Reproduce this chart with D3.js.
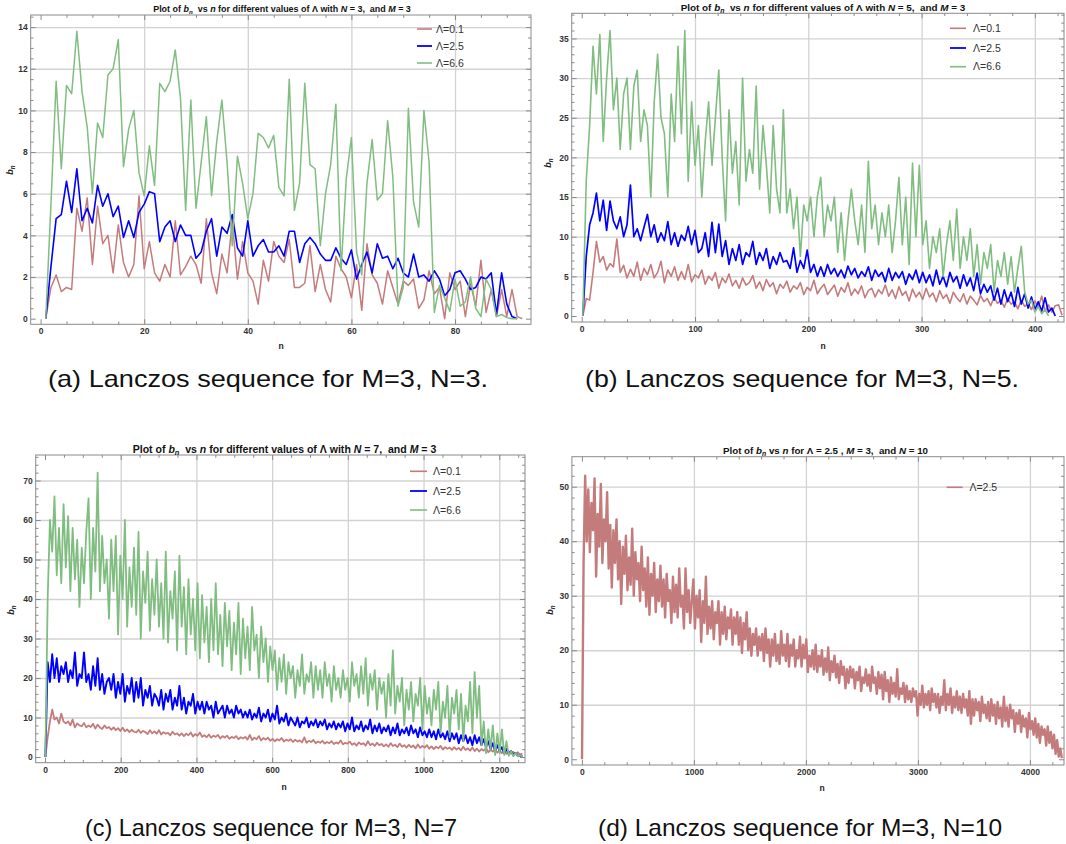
<!DOCTYPE html>
<html><head><meta charset="utf-8">
<script src="https://cdn.jsdelivr.net/npm/d3@7"></script>
<style>body{margin:0;background:#fff}svg{display:block;font-family:"Liberation Sans",Arial,sans-serif}</style>
</head><body>
<svg id="chart" width="1066" height="844"></svg>
<script>
// ---------------- DATA ----------------
const legendLabels = ["Λ=0.1", "Λ=2.5", "Λ=6.6"];
const legendLabelD = ["Λ=2.5"];

// Panel (a): N=3, step 1, n starts at 1
const aStep = 1;
const aRed = [0,1.5,2.1,1.3,1.5,1.4,5.3,4.2,5.8,2.6, 5.4,3.6,4.0,2.2,4.5,2.7,2.0,2.6,5.9,2.4,
 3.7,2.2,1.8,2.6,2.0,4.7,2.1,2.5,3.0,2.6, 1.7,4.8,2.2,1.2,3.1,2.2,4.7,1.9,3.7,2.2,
 1.8,0.7,2.8,1.8,3.7,3.0,2.7,3.8,1.5,1.5, 1.7,3.5,1.3,2.6,1.4,0.8,3.0,2.4,2.0,1.0,
 2.6,0.4,3.6,2.1,1.7,0.7,2.3,1.5,0.7,1.8, 1.6,1.9,0.5,0.9,2.3,1.2,1.5,0.0,2.2,1.4,
 1.8,0.1,1.7,0.6,2.8,0.3,1.4,0.1,1.4,0.1, 1.4,0.1,0.0];
const aBlue = [0,2.5,4.8,5.0,6.6,5.1,7.2,4.7,5.3,4.6, 6.4,5.4,6.0,4.9,5.4,3.9,4.7,3.9,5.1,5.5,
 6.1,6.0,3.7,4.4,4.7,3.7,4.5,4.0,4.0,2.9, 3.2,4.2,4.8,3.0,4.4,4.1,5.0,3.4,3.0,4.7,
 3.0,3.5,3.8,3.2,3.2,3.5,3.0,4.2,4.2,2.7, 3.6,3.9,3.6,3.1,2.8,2.8,3.4,2.9,2.6,3.3,
 1.9,2.6,3.2,2.2,3.6,2.9,3.0,2.4,2.9,2.2, 2.0,3.1,2.0,2.1,1.8,2.3,1.9,1.1,1.4,2.2,
 2.3,1.9,1.4,1.5,2.0,1.9,2.2,0.2,2.2,0.7, 0.1,0.0];
const aGreen = [0,5.5,11.4,7.2,11.2,10.8,13.8,10.9,9.2,6.0, 9.4,8.7,11.7,12.0,13.4,7.3,9.1,10.0,7.0,5.9,
 8.3,6.4,11.3,10.9,11.4,12.9,10.6,5.2,10.5,5.3, 7.5,9.7,5.9,8.5,10.5,7.5,3.5,7.8,6.5,4.8,
 6.0,8.9,8.7,8.2,8.8,6.3,5.9,11.5,5.2,6.5, 11.3,7.4,7.2,3.5,6.0,7.4,10.3,2.3,6.7,8.7,
 3.2,2.1,6.5,8.6,5.7,6.0,9.5,6.8,0.6,1.5, 10.1,5.6,4.4,10.0,7.5,0.3,1.6,1.0,0.35,1.9,
 0.6,0.8,2.0,0.5,0.1,1.9,1.4,0.1,0.2,0.05, 0.0,0.0];
const aXTicks = [0,20,40,60,80];
const aYTicks = [0,2,4,6,8,10,12,14];

// Panel (b): N=5, sampled every 3rd n starting at n=1
const bStep = 3;
const bRed = [0,2.2,2,5.5,9.4,6.8,7.5,5.8,6.6,6.2, 9.7,5.5,6.4,4.8,5.9,5,6.8,4.5,6,5.2,
 6.5,4.8,5.5,6.9,4.2,5.8,5,6.2,4.5,5.6, 4.6,6.5,4.3,5.2,4.8,5.8,4,5,4.5,5.5,
 3.5,4.8,4.2,5.3,3.8,4.5,3.5,4.8,3.9,4.2, 5.1,3.5,4.3,3.2,4.6,3.7,4.2,2.8,4,3.5,
 4.4,3,3.8,3.4,4.2,2.7,3.6,3.2,4.5,2.8, 3.5,4,2.7,3.3,3.9,2.5,3.6,3,4.2,2.6,
 3.4,2.8,3.8,2.3,3.2,3.5,2.4,3.3,2.8,3.9, 2.5,3.3,2.2,3.7,2.6,3.1,1.9,3.4,2.4,3,
 2.1,3.5,2.4,2.9,1.8,3.2,2.2,2.7,1.6,3, 2.3,1.8,2.8,1.5,2.5,2,1.4,2.6,1.8,2.2,
 1.3,2.4,1.6,2,1.1,2.2,1.5,1.8,0.9,2, 1.2,1.6,0.8,1.9,1.1,2.5,0.6,1.4,0.5,1.3,
 1.4,0.1];
const bBlue = [0,7.5,11.5,13,15.5,12,14.6,10.8,14.5,12, 11,12.5,10,11.5,16.5,10,11,9.5,11.2,12.8,
 10,11.5,9.3,10.5,9.5,11.9,9,10.5,8.8,10.2, 9.5,11.3,9,10.8,8,8.5,10.5,7.5,11.8,8,
 11.6,7.5,9.5,6.5,8.5,7,9,6.5,8,7.5, 9.4,6.5,8,7,8.5,6,7.5,6.5,8,6.8,
 7,6,8.6,5.5,7,6,8.3,5.5,6.5,5, 6.2,5,6.5,5.3,6,5,5.8,4.8,6.3,5.2,
 6,4.8,5.6,5,6.2,4.5,5.8,5,5.5,4.3, 6,4.5,5.5,4.8,5.6,4,5.3,4.6,5.8,4.2,
 5.5,4.2,5.2,3.8,5.8,4,5,3.7,5.5,4.3, 5,3.5,5.2,3.8,4.8,3.2,5.4,2.8,4,3,
 3.8,2,3.5,1.5,3.3,1.8,3,1.2,3.6,1.5, 2.8,1,2.4,0.8,1.8,0.6,2.3,0.5,1,0];
const bGreen = [0,17,24,34,28,35.5,22,30,36,26, 30,21,28,30,21,29,31,22,26,24,
 15,27,33,25,23,15,28,22,34,23, 36,17,27,19,24,15,22,27,19,25,
 31,20,12,26,18,22,14,30,17,21, 18,29,16,24,19,13,24,16,13,26,
 13,16,11,15,7.5,14,12,15,10,15, 17.5,10,14,12,15,8,13,7,12,16,
 12,9,14,8,19.5,11,14,9,13,10, 14,8,12,17.5,9,15,6.5,19.3,10,19,
 9,12,6,10,8,11,5,9,12,7, 13.5,6,10,7,11,5,9,4,8,6,
 9,3,7,5,8,4,7.5,3,6,8.8, 3,1.5,2,0.5,1.2,0.3,0.8,0];
const bXTicks = [0,100,200,300,400];
const bYTicks = [0,5,10,15,20,25,30,35];

// Panel (c): N=7, sampled every 6th n starting at n=1
const cStep = 6;
const cRed = [0,5,9,12,9.5,10,8.5,11,9,8.5, 9,8,9.5,7.5,8.5,8,7.8,8.6,7.5,8,
 7.6,8.4,7.2,8.2,7.5,7.1,8,7.3,7.6,6.9, 7.5,6.8,7.3,6.6,7.4,6.5,7,6.3,6.9,6.4,
 6.2,6.9,6.1,6.6,6.3,5.8,6.8,6,6.5,5.9, 6.8,5.7,6.3,5.9,6.1,5.5,6.4,5.7,6,5.4,
 6,5.3,5.9,5.5,6.2,5.2,5.8,5.4,6.2,5.1, 5.5,5,5.7,4.9,5.4,5.1,5.6,4.7,5.3,4.9,
 5.4,4.6,5.1,4.8,5.3,4.5,5,4.7,5.1,4.4, 5.6,4.3,4.9,4.5,5.3,4.2,4.8,4.4,4.9,4.1,
 4.6,4,4.5,4.2,4.8,3.9,4.4,4.1,4.5,3.8, 4.4,3.9,4.2,3.7,5,3.6,4.1,3.8,4.3,3.5,
 3.9,3.6,4.1,3.4,3.8,3.5,4,3.3,3.7,3.4, 4.2,3.2,3.6,3.4,3.9,3.1,3.5,2.9,3.7,3.2,
 3.5,2.9,4,3,3.4,2.8,3.6,3,3.3,2.7, 3.2,2.6,3.5,2.8,3.1,2.5,3.4,2.6,3,2.4,
 3.1,2.5,2.9,2.2,3.2,2.3,2.8,2.4,3,2.1, 2.7,2,2.6,2.2,2.8,1.9,2.5,2.1,2.4,1.8,
 2.5,1.9,2.3,1.7,2.6,1.8,2.2,1.6,2.4,1.5, 2.1,1.4,2,1.6,2.2,1.2,1.8,1.4,1.9,1.1,
 1.6,1,1.5,0.8,1.4,0.9,1.3,0.7,1.2,0.6, 0.9];
const cBlue = [0,24,19,26,20,25,19,23,21,24, 19,22,20,26.5,18,21,20,26.5,19,21,
 17,23,18,25,17,21,16,19,20,17, 21,15,19,16,21,14,18,16,20,14,
 19,15,20,13,17,15,18,13,16,15, 13,17,12,16,14,17,12,15,13,18,
 12,15,11,14,13,16,11,14,12,14, 11,14,12,13,10,14,11,12,13,10,
 13,11,12,10,13,11,12,10,11.5,10, 12,9.5,11,10,12.5,9,11,10,12,9,
 11,9.5,13,8.5,10,9,11,8,10,9, 8,10,7.5,9,8.5,10,7.5,9,8,9.5,
 7.5,9,8,9.5,7,8.5,7.5,9,7,8.5, 7.5,9,6.5,8.5,7,10,6.5,8,7,9,
 6.5,8,7,9.5,6,8,6.5,8.5,6,7.5, 6.5,8,5.5,7.5,6,8.5,5.5,7,6,7.5,
 5.5,8,6,7,5,7.5,5.5,6.5,5,7, 5,6.5,4.5,7,5,6,4.5,6.5,4,6,
 4.5,6,3.5,5.5,4,5.5,3.5,5,3,5.5, 3.5,5,3,4.5,2.5,4,2,3.5,1.5,3,
 1.5,2.5,1,2,0.8,1.5,0.5,1,0.3,0.4, 0.1];
const cGreen = [0,40,60,52,66,46,58,44,64,48, 61,42,58,45,55,38,53,44,57,65.5,
 40,58,47,72,42,56,44,50,35,55, 42,56,31,51,40,60,33,48,38,53,
 36,57,30,47,39,52,32,45,36,50, 33,44,30,52,29,42,35,47,27,51,
 33,43,26,45,31,40,27,44,25,41, 29,38,24,40,27,44,26,36,23,39,
 28,37,22,34,26,39,21,35,25,33, 22,38,27,31,20,33,24,30,19,28,
 22,27,17,25,19,26,16,24,20,23, 15,22,18,26,16,21,19,24,15,23,
 17,22,15,24,18,21,14,23,17,20, 15,22,17,20,14,24,18,21,15,23,
 16,25,13,21,17,22,12,20,16,19, 10,21,13,27,11,18,14,20,8,17,
 12,19,9,16,13,20,7,18,11,15, 8,17,12,19,6,14,10,18,5,15,
 11,17,7,16,4,13,9,19,6,21.5, 10,18,3,9,1,7,2,8,0.5,6,
 1,7,0.5,4,0.3,1.5,0.2,1,0.2,0.5, 0.1];
const cXTicks = [0,200,400,600,800,1000,1200];
const cYTicks = [0,10,20,30,40,50,60,70];

// Panel (d): N=10, sampled every 14th n starting at n=1
const dStep = 14;
const dRed = [0,36,52,40,49.5,38,47,42,51.5,33.5, 45,39,50.5,36,44,40,49,35,43,31.5,
 42,36,44,33,40,28.5,39,34,41,31, 37,32,42.3,30,38,33,36,29,39,31,
 35,28,37,26.5,34,30,36,27,33,29, 35.5,28,33,26,34,29,31,25,33.5,27,
 32,26,35,28,30,24,35,27,31,25, 29,33,24,30,26,31,21.5,29,25,33.5,
 23,28,24,29,22,27,25,29,21,27, 23,28,22,26,24,27.5,21,26,23,27,
 21,26,19.5,25,22,27,20,24,19,23, 21,24,19,22.5,20,23,18,24,19.5,22,
 17,22,19,23,18,21,17.5,23.5,19,21, 18,23,17,21,19,22,17,20,18.5,22.5,
 17,21,18.5,22,16,19,17,20,16.5,21, 16,19,17,20,15.5,18.5,16,20.5,14.5,18,
 16,19,15,17.5,14,18,15.5,17,13,16.5, 14,17,15,16.5,13,16,14.5,17,12.5,15,
 14,16.5,13.5,15.5,12.5,17,14,15,12,16, 13,15.5,11,16,12.5,14.5,10.5,15,12,14,
 11.5,16.5,11,13,12,14,10.5,13.5,11,12.5, 10.5,13,11.5,12.5,8,12,10,13.5,9.5,12,
 10,12.5,9,13,10.5,12,9.5,12,8.5,11.5, 10,14.5,9,12,10,13,8.5,11.5,9.5,12.5,
 9,11.5,8.5,12,9.5,11,8,12.5,6.5,11, 8,11,9,10.5,7,11.5,8.5,10,7.5,10.5,
 7,11,8,10,6.5,10.5,7.5,9.5,6,11.5, 7,9.5,6,10,7.5,9,5,8.5,6.5,9,
 5,8,6,7.5,4,8.5,5.5,7,4.5,7.5, 4,6.5,3,6,4.5,5.5,2.5,6,3,5,
 2,4.5,1,3.5,0.5,2,0.2];
const dXTicks = [0,1000,2000,3000,4000];
const dYTicks = [0,10,20,30,40,50];

// ---------------- STYLE / LAYOUT ----------------
const RED = "#c47b7b", BLUE = "#0000ff", GREEN = "#80bd80";
const svg = d3.select("#chart");
const FONT = '"Liberation Sans", Arial, sans-serif';

function titleSegs(tail){
  return [{t:"Plot of "},{t:"b",i:1},{t:"n",i:1,sub:1},{t:"  vs "},{t:"n",i:1}].concat(tail);
}

const panels = [
 {id:"a", left:30.7, right:531, top:15, bottom:324.3, xDomain:[-1.91,94.67], yDomain:[-0.27,14.58],
  xTicks:aXTicks, yTicks:aYTicks, xMinor:5, yMinor:0.5, step:aStep, lw:1.5,
  series:[{v:aRed,c:RED},{v:aBlue,c:BLUE},{v:aGreen,c:GREEN}], labels:legendLabels,
  leg:{x1:417,x2:432,tx:436,ys:[29,46,63]},
  title:{x:282,y:9,w:258,segs:titleSegs([{t:" for different values of Λ with "},{t:"N",i:1},{t:" = 3,  and "},{t:"M",i:1},{t:" = 3"}])},
  ylab:[10,170], xlab:[281,346], cap:{t:"(a) Lanczos sequence for M=3, N=3.",x:268,y:379,w:440}},
 {id:"b", left:571.7, right:1064, top:13.3, bottom:322, xDomain:[-8.83,425.7], yDomain:[-0.757,38.17],
  xTicks:bXTicks, yTicks:bYTicks, xMinor:20, yMinor:1, step:bStep, lw:1.6,
  series:[{v:bRed,c:RED},{v:bBlue,c:BLUE},{v:bGreen,c:GREEN}], labels:legendLabels,
  leg:{x1:950,x2:966,tx:973,ys:[28.3,48,66.7]},
  title:{x:823,y:7.5,w:285,segs:titleSegs([{t:" for different values of Λ with "},{t:"N",i:1},{t:" = 5,  and "},{t:"M",i:1},{t:" = 3"}])},
  ylab:[548,163], xlab:[823,346], cap:{t:"(b) Lanczos sequence for M=3, N=5.",x:802,y:379,w:434}},
 {id:"c", left:35.7, right:525, top:455, bottom:762.7, xDomain:[-24.6,1268], yDomain:[-1.44,76.46],
  xTicks:cXTicks, yTicks:cYTicks, xMinor:50, yMinor:2, step:cStep, lw:1.8,
  series:[{v:cRed,c:RED},{v:cBlue,c:BLUE},{v:cGreen,c:GREEN}], labels:legendLabels,
  leg:{x1:410,x2:427,tx:433,ys:[471.3,491,510]},
  title:{x:284.5,y:449.3,w:304,segs:titleSegs([{t:" for different values of Λ with "},{t:"N",i:1},{t:" = 7,  and "},{t:"M",i:1},{t:" = 3"}])},
  ylab:[11,610], xlab:[284,787], cap:{t:"(c) Lanczos sequence for M=3, N=7",x:271,y:828,w:372}},
 {id:"d", left:571.9, right:1064, top:456.7, bottom:765, xDomain:[-89.3,4304], yDomain:[-1.05,55.5],
  xTicks:dXTicks, yTicks:dYTicks, xMinor:200, yMinor:2, step:dStep, lw:2.4,
  series:[{v:dRed,c:RED}], labels:legendLabelD,
  leg:{x1:946.6,x2:962.7,tx:969.4,ys:[487.3]},
  title:{x:825.5,y:450.5,w:205,segs:[{t:"Plot of "},{t:"b",i:1},{t:"n",i:1,sub:1},{t:" vs "},{t:"n",i:1},{t:" for Λ = 2.5 , "},{t:"M",i:1},{t:" = 3,  and "},{t:"N",i:1},{t:" = 10"}]},
  ylab:[550,610], xlab:[822,788], cap:{t:"(d) Lanczos sequence for M=3, N=10",x:800,y:828,w:404}}
];

function minorVals(domain, step, majors){
  const out=[]; const s=Math.ceil(domain[0]/step)*step;
  for(let v=s; v<=domain[1]+1e-9; v+=step){ const r=Math.round(v*1000)/1000; if(!majors.some(m=>Math.abs(m-r)<1e-6)) out.push(r); }
  return out;
}

function styleAxis(sel, color){
  sel.select(".domain").remove();
  sel.selectAll("line").attr("stroke", color||"#8a8a8a");
}

const fmt = d3.format("d");

function drawPanel(p){
  const g = svg.append("g");
  const x = d3.scaleLinear().domain(p.xDomain).range([p.left,p.right]);
  const y = d3.scaleLinear().domain(p.yDomain).range([p.bottom,p.top]);
  const W = p.right-p.left, H = p.bottom-p.top;

  // grid lines
  g.append("g").attr("transform",`translate(0,${p.bottom})`)
    .call(d3.axisBottom(x).tickValues(p.xTicks.filter(v=>v!==0)).tickSize(-H).tickFormat(""))
    .call(s=>{styleAxis(s,"#d2d2d2"); s.selectAll("line").attr("stroke-width",1.3);});
  g.append("g").attr("transform",`translate(${p.left},0)`)
    .call(d3.axisLeft(y).tickValues(p.yTicks.filter(v=>v!==0)).tickSize(-W).tickFormat(""))
    .call(s=>{styleAxis(s,"#d2d2d2"); s.selectAll("line").attr("stroke-width",1.3);});

  // data
  const cid = "clip-"+p.id;
  svg.append("clipPath").attr("id",cid).append("rect")
    .attr("x",p.left).attr("y",p.top).attr("width",W).attr("height",H);
  const line = d3.line().x((d,i)=>x(1+i*p.step)).y(d=>y(d));
  p.series.forEach(s=>{
    g.append("path").datum(s.v).attr("d",line).attr("fill","none")
      .attr("stroke",s.c).attr("stroke-width",s.c===BLUE?p.lw+0.1:p.lw)
      .attr("stroke-linejoin","round").attr("clip-path",`url(#${cid})`);
  });

  // frame
  g.append("rect").attr("x",p.left).attr("y",p.top).attr("width",W).attr("height",H)
    .attr("fill","none").attr("stroke","#8a8a8a").attr("stroke-width",1);

  const xm = minorVals(p.xDomain,p.xMinor,p.xTicks), ym = minorVals(p.yDomain,p.yMinor,p.yTicks);
  const lab = s=>s.selectAll("text").attr("font-family",FONT).attr("font-weight","bold").attr("font-size",8.5).attr("fill","#333");
  // bottom axis (labels)
  g.append("g").attr("transform",`translate(0,${p.bottom})`)
    .call(d3.axisBottom(x).tickValues(p.xTicks).tickFormat(fmt).tickSizeInner(-5).tickSizeOuter(0).tickPadding(4))
    .call(s=>{styleAxis(s); lab(s);});
  g.append("g").attr("transform",`translate(0,${p.bottom})`)
    .call(d3.axisBottom(x).tickValues(xm).tickSize(-2.8).tickFormat("")).call(s=>styleAxis(s));
  // top
  g.append("g").attr("transform",`translate(0,${p.top})`)
    .call(d3.axisTop(x).tickValues(p.xTicks).tickSize(-5).tickFormat("")).call(s=>styleAxis(s));
  g.append("g").attr("transform",`translate(0,${p.top})`)
    .call(d3.axisTop(x).tickValues(xm).tickSize(-2.8).tickFormat("")).call(s=>styleAxis(s));
  // left (labels)
  g.append("g").attr("transform",`translate(${p.left},0)`)
    .call(d3.axisLeft(y).tickValues(p.yTicks).tickFormat(fmt).tickSizeInner(-5).tickSizeOuter(0).tickPadding(3))
    .call(s=>{styleAxis(s); lab(s);});
  g.append("g").attr("transform",`translate(${p.left},0)`)
    .call(d3.axisLeft(y).tickValues(ym).tickSize(-2.8).tickFormat("")).call(s=>styleAxis(s));
  // right
  g.append("g").attr("transform",`translate(${p.right},0)`)
    .call(d3.axisRight(y).tickValues(p.yTicks).tickSize(-5).tickFormat("")).call(s=>styleAxis(s));
  g.append("g").attr("transform",`translate(${p.right},0)`)
    .call(d3.axisRight(y).tickValues(ym).tickSize(-2.8).tickFormat("")).call(s=>styleAxis(s));

  // legend
  p.labels.forEach((lb,i)=>{
    const yy = p.leg.ys[i];
    g.append("line").attr("x1",p.leg.x1).attr("x2",p.leg.x2).attr("y1",yy).attr("y2",yy)
      .attr("stroke",p.series[i].c).attr("stroke-width",p.series[i].c===BLUE?1.8:1.6);
    g.append("text").attr("x",p.leg.tx).attr("y",yy).attr("dy","0.35em")
      .attr("font-family",FONT).attr("font-size",10.5).attr("fill","#333").text(lb);
  });

  // title
  const t = g.append("text").attr("x",p.title.x).attr("y",p.title.y).attr("dy","0.35em")
    .attr("text-anchor","middle").attr("font-family",FONT).attr("font-weight","bold")
    .attr("font-size",10).attr("fill","#111").style("white-space","pre");
  p.title.segs.forEach(s=>{
    const ts = t.append("tspan").text(s.t);
    if(s.i) ts.attr("font-style","italic");
    if(s.sub) ts.attr("baseline-shift","-25%").style("font-size","70%");
  });
  const L = t.node().getComputedTextLength();
  if(L>0) t.attr("font-size", 10*p.title.w/L);

  // axis labels
  const yl = g.append("text").attr("transform",`translate(${p.ylab[0]},${p.ylab[1]}) rotate(-90)`)
    .attr("text-anchor","middle").attr("dy","0.35em").attr("font-family",FONT)
    .attr("font-weight","bold").attr("font-size",9).attr("fill","#222");
  yl.append("tspan").attr("font-style","italic").text("b");
  yl.append("tspan").attr("font-style","italic").attr("baseline-shift","-25%").style("font-size","70%").text("n");
  g.append("text").attr("x",p.xlab[0]).attr("y",p.xlab[1]).attr("dy","0.35em").attr("text-anchor","middle")
    .attr("font-family",FONT).attr("font-weight","bold").attr("font-size",8.5).attr("fill","#222").text("n");

  // caption
  svg.append("text").attr("x",p.cap.x).attr("y",p.cap.y).attr("dy","0.35em").attr("text-anchor","middle")
    .attr("font-family",FONT).attr("font-size",24).attr("fill","#111")
    .attr("textLength",p.cap.w).attr("lengthAdjust","spacingAndGlyphs").text(p.cap.t);
}

panels.forEach(drawPanel);
</script>
</body></html>
